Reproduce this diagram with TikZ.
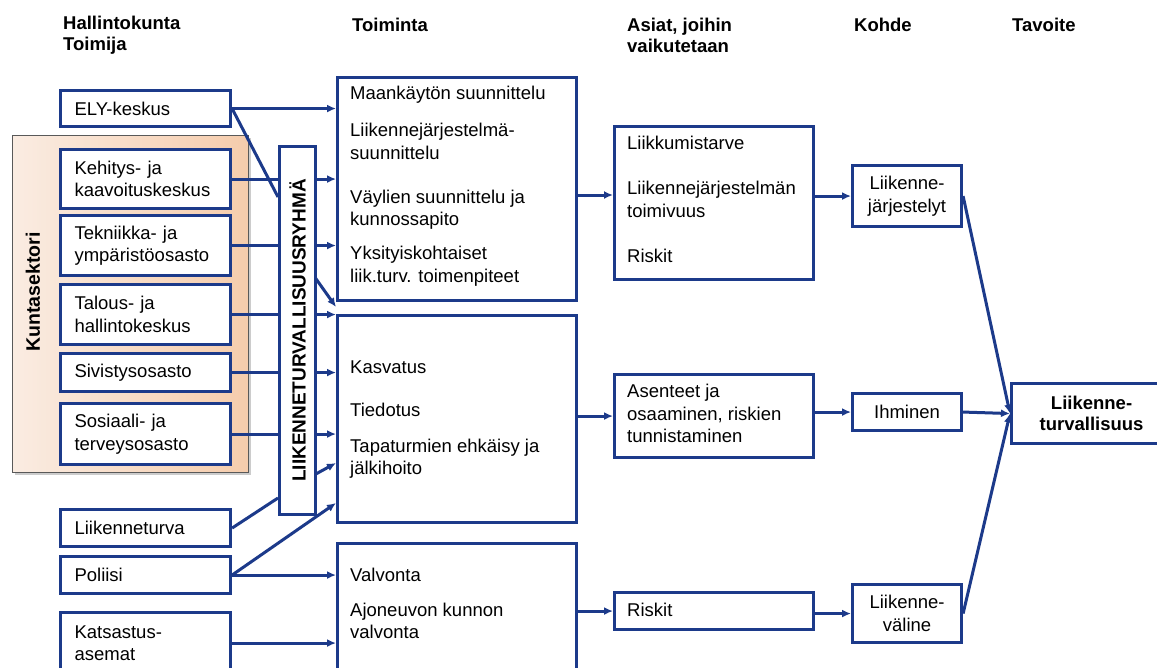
\documentclass[tikz,border=0pt]{standalone}
\usepackage{fontspec}
\setmainfont{Liberation Sans}
\usetikzlibrary{arrows.meta,calc}
\definecolor{navy}{RGB}{28,58,138}
\definecolor{peachL}{RGB}{250,236,226}
\definecolor{peachR}{RGB}{245,204,172}
\pgfdeclarelayer{back}
\pgfdeclarelayer{bg}
\pgfsetlayers{back,bg,main}
\begin{document}
\begin{tikzpicture}[x=1pt,y=-1pt,
  txt/.style={font=\fontsize{18.5pt}{22.5pt}\selectfont, inner sep=0pt, align=left, text=black},
  hdr/.style={font=\bfseries\fontsize{18.5pt}{21pt}\selectfont, inner sep=0pt, align=left, anchor=west},
  box/.style={draw=navy, line width=3.1pt, fill=white, inner sep=0pt, anchor=north west},
  lbox/.style={box, txt, inner xsep=14pt, text width=142pt, minimum width=170pt},
  cbox/.style={box, txt, align=center},
  arr/.style={draw=navy, line width=3pt, -{Latex[length=9pt,width=8pt]}},
  ln/.style={draw=navy, line width=3pt},
]
\useasboundingbox (0,0) rectangle (1157,667);

% headers
\node[hdr] (h1) at (63,35) {Hallintokunta\\Toimija};
\node[hdr] (h2) at (352,25) {Toiminta};
\node[hdr] (h3) at (627,35) {Asiat, joihin\\vaikutetaan};
\node[hdr] (h4) at (854,25) {Kohde};
\node[hdr] (h5) at (1012,25) {Tavoite};

% municipal sector panel
\begin{pgfonlayer}{back}
\fill[white] (0,0) rectangle (1157,667);
\fill[gray!40] (15,138) rectangle (251,475);
\node[draw=gray!70!black, line width=1.2pt, left color=peachL, right color=peachR,
      minimum width=236pt, minimum height=337pt, inner sep=0pt, anchor=north west] (kunta) at (12,135) {};
\node[font=\bfseries\fontsize{19.5pt}{22pt}\selectfont, rotate=90, inner sep=0pt] (kuntal) at (33,292) {Kuntasektori};
\end{pgfonlayer}

% left column
\node[lbox, minimum height=36pt] (ely) at (59,89) {ELY-keskus};
\node[lbox, minimum height=59pt] (keh) at (59,148) {Kehitys- ja\\kaavoituskeskus};
\node[lbox, minimum height=60pt] (tek) at (59,214) {Tekniikka- ja\\ympäristöosasto};
\node[lbox, minimum height=60pt] (tal) at (59,283) {Talous- ja\\hallintokeskus};
\node[lbox, minimum height=38pt] (siv) at (59,352) {Sivistysosasto};
\node[lbox, minimum height=61pt] (sos) at (59,402) {Sosiaali- ja\\terveysosasto};
\node[lbox, minimum height=37pt] (ltu) at (59,508) {Liikenneturva};
\node[lbox, minimum height=37pt] (pol) at (59,555) {Poliisi};
\node[lbox, minimum height=61pt] (kat) at (59,611) {Katsastus-\\asemat};

% traffic safety group
\node[box, minimum width=36pt, minimum height=368pt] (ltr) at (278,145) {};
\node[font=\bfseries\fontsize{19pt}{21pt}\selectfont, rotate=90, inner sep=0pt] (ltrt) at (ltr.center) {LIIKENNETURVALLISUUSRYHMÄ};

% Toiminta boxes
\node[box, minimum width=239pt, minimum height=223pt] (t1) at (336,76) {};
\node[box, minimum width=239pt, minimum height=207pt] (t2) at (336,314) {};
\node[box, minimum width=239pt, minimum height=170pt] (t3) at (336,542) {};
\node[txt, anchor=west] (t1a) at (350,95) {Maankäytön suunnittelu};
\node[txt, anchor=west] (t1b) at (350,141.5) {Liikennejärjestelmä-\\suunnittelu};
\node[txt, anchor=west] (t1c) at (350,209.5) {Väylien suunnittelu ja\\kunnossapito};
\node[txt, anchor=west] (t1e) at (350,266) {Yksityiskohtaiset\\liik.turv. toimenpiteet};
\node[txt, anchor=west] (t2a) at (350,367) {Kasvatus};
\node[txt, anchor=west] (t2b) at (350,410) {Tiedotus};
\node[txt, anchor=west] (t2c) at (350,458.5) {Tapaturmien ehkäisy ja\\jälkihoito};
\node[txt, anchor=west] (t3a) at (350,575) {Valvonta};
\node[txt, anchor=west] (t3b) at (350,621) {Ajoneuvon kunnon\\valvonta};

% Asiat boxes
\node[box, minimum width=199pt, minimum height=153pt] (a1) at (613,125) {};
\node[box, minimum width=199pt, minimum height=83pt] (a2) at (613,373) {};
\node[box, minimum width=199pt, minimum height=37pt] (a3) at (613,591) {};
\node[txt, anchor=west] (a1a) at (627,143) {Liikkumistarve};
\node[txt, anchor=west] (a1b) at (627,199.5) {Liikennejärjestelmän\\toimivuus};
\node[txt, anchor=west] (a1c) at (627,256) {Riskit};
\node[txt, anchor=west] (a2a) at (627,413.5) {Asenteet ja\\osaaminen, riskien\\tunnistaminen};
\node[txt, anchor=west] (a3a) at (627,609.5) {Riskit};

% Kohde boxes
\node[cbox, minimum width=109pt, minimum height=61pt] (k1) at (851,164) {Liikenne-\\järjestelyt};
\node[cbox, minimum width=109pt, minimum height=37pt] (k2) at (851,392) {Ihminen};
\node[cbox, minimum width=109pt, minimum height=58pt] (k3) at (851,583) {Liikenne-\\väline};

% Tavoite
\node[box, font=\bfseries\fontsize{18.5pt}{21pt}\selectfont, align=center, minimum width=160pt, minimum height=60pt] (tav) at (1010,382) {Liikenne-\\turvallisuus};

% free ends
\coordinate (ltrA) at (278,197);
\coordinate (ltrB) at (278,498);
\coordinate (ltrC) at (314,276);
\coordinate (ltrD) at (314,475);
\coordinate (t1d) at (336,307);
\coordinate (t2d) at (336,463);
\coordinate (t2e) at (336,503);
\coordinate (a1in) at (613,195);

% connectors
\begin{pgfonlayer}{bg}
\draw[arr] (ely.east) -- (ely.east -| t1.west);
\draw[ln] (ely.east) -- (ltrA);
\draw[arr] (keh.east) -- (keh.east -| t1.west);
\draw[arr] (tek.east) -- (tek.east -| t1.west);
\draw[arr] (tal.east) -- (tal.east -| t2.west);
\draw[arr] (ltrC) -- (t1d);
\draw[arr] (siv.east) -- (siv.east -| t2.west);
\draw[arr] (sos.east) -- (sos.east -| t2.west);
\draw[arr] (ltrD) -- (t2d);
\draw[ln] (ltu.east) -- (ltrB);
\draw[arr] (pol.east) -- (t2e);
\draw[arr] (pol.east) -- (pol.east -| t3.west);
\draw[arr] (kat.east) -- (kat.east -| t3.west);
\draw[arr] (t1.east |- a1in) -- (a1in);
\draw[arr] (t2.east |- a2.west) -- (a2.west);
\draw[arr] (t3.east |- a3.west) -- (a3.west);
\draw[arr] (a1.east |- k1.west) -- (k1.west);
\draw[arr] (a2.east |- k2.west) -- (k2.west);
\draw[arr] (a3.east |- k3.west) -- (k3.west);
\draw[arr] (k1.east) -- (tav.west);
\draw[arr] (k2.east) -- (tav.west);
\draw[arr] (k3.east) -- (tav.west);
\end{pgfonlayer}
\end{tikzpicture}
\end{document}
